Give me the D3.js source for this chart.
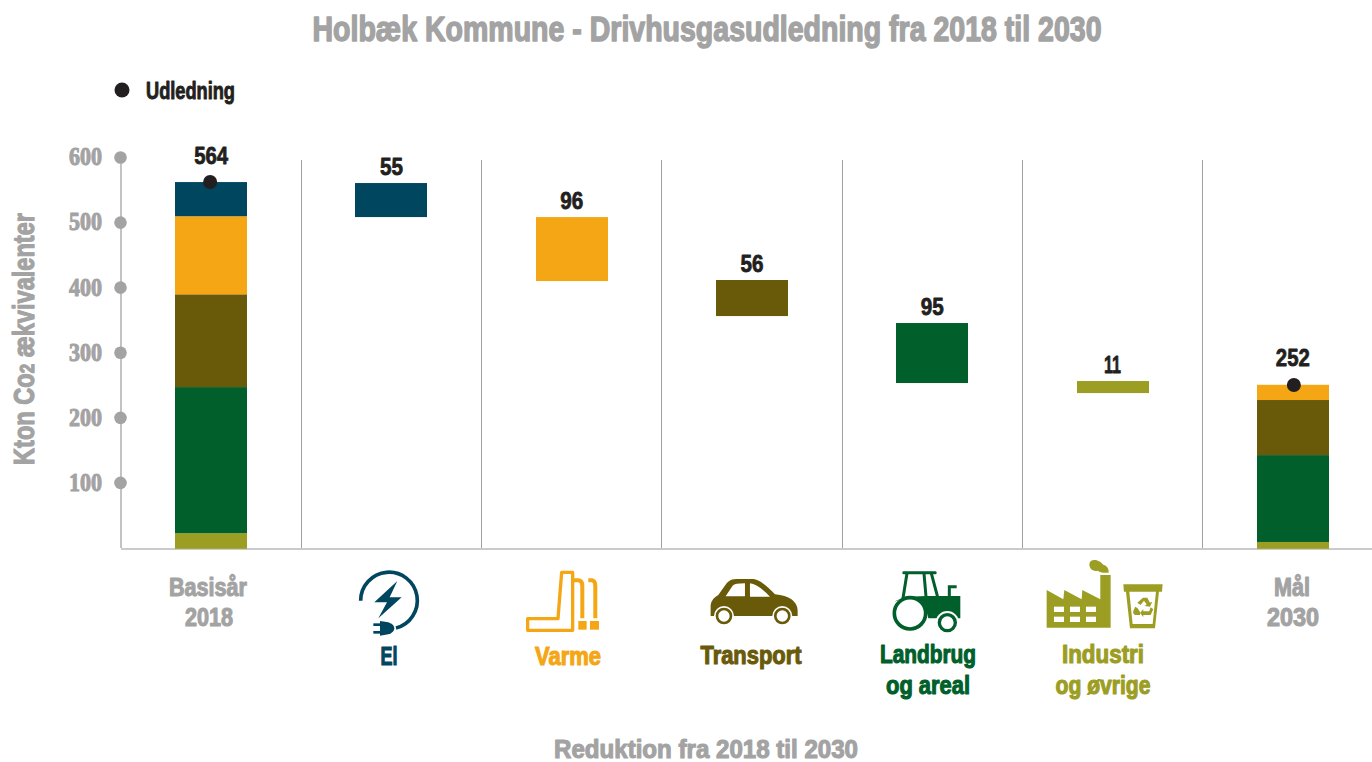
<!DOCTYPE html>
<html><head><meta charset="utf-8">
<script src="https://cdn.jsdelivr.net/npm/d3@7"></script>
<style>
html,body{margin:0;padding:0;background:#fff;overflow:hidden}
text{font-family:"Liberation Sans Narrow","Liberation Sans",sans-serif;font-weight:700;stroke-linejoin:round}
</style></head><body><svg id="c" width="1372" height="762"></svg>
<script>
const categories=["Basisår 2018","El","Varme","Transport","Landbrug og areal","Industri og øvrige","Mål 2030"];
const sectors=["Industri","Landbrug","Transport","Varme","El"];
const baseStack=[24,224.5,142.5,120,52.5];
const goalStack=[10.5,133.5,84.6,23.4,0];
const reductionTop=[560,507.7,411,344.9,255.8];
const reductionBottom=[507.7,409.4,355.6,252.7,237.3];
const reductionLabels=[55,96,56,95,11];
const totals=[564,252];
const yTicks=[100,200,300,400,500,600];
const sectorColors=["#9c9e24","#005f2b","#695a0a","#f5a614","#00465f"];
const GREY="#a3a3a3",DARK="#231f20";
const stackFloor=-2;

const svg=d3.select("#c");
const x=d3.scaleBand().domain(categories).range([121,1383]);
const y=d3.scaleLinear().domain([0,600]).range([547.5,157]);
const cx=c=>x(c)+x.bandwidth()/2;
const BAR=72;

function label(t,px,py,size,fill,w,anchor="middle",stroke=1.1){
  const n=svg.append("text").attr("x",px).attr("y",py).attr("font-size",size).attr("fill",fill)
    .attr("text-anchor",anchor).attr("stroke",fill).attr("stroke-width",stroke).text(t);
  if(w) n.attr("textLength",w).attr("lengthAdjust","spacingAndGlyphs");
  return n;
}
// titles
label("Holbæk Kommune - Drivhusgasudledning fra 2018 til 2030",707,41,35.5,GREY,789,"middle",1.5);
label("Reduktion fra 2018 til 2030",706,758,25,GREY,304,"middle",1.1);
svg.append("circle").attr("cx",122).attr("cy",90).attr("r",7.5).attr("fill",DARK);
label("Udledning",146,99,23,DARK,89,"start",.9);
const yt=label("Kton Co",0,0,29,GREY,252,"middle",1.2).attr("transform","translate(33.5,339) rotate(-90)");
yt.append("tspan").attr("font-size",21).text("2");
yt.append("tspan").text(" ækvivalenter");

// separators & axes
const sepG=svg.append("g");
categories.slice(1).forEach(c=>{
  sepG.append("line").attr("x1",Math.floor(x(c))+.5).attr("x2",Math.floor(x(c))+.5)
   .attr("y1",160).attr("y2",548).attr("stroke","#a0a0a0").attr("stroke-width",1);
});
const axG=svg.append("g").attr("transform","translate(120.5,0)")
  .call(d3.axisLeft(y).tickValues(yTicks).tickSize(0).tickPadding(18.5).tickFormat(d3.format("d")));
axG.select(".domain").attr("stroke",GREY).attr("stroke-width",1.3);
axG.selectAll("text").attr("font-size",24.5).attr("fill",GREY).attr("stroke",GREY).attr("stroke-width",1)
  .attr("textLength",33).attr("lengthAdjust","spacingAndGlyphs")
  .style("font-family",'"Liberation Sans Narrow"');
axG.selectAll(".tick").append("circle").attr("r",6.3).attr("fill",GREY);
svg.append("line").attr("x1",121).attr("x2",1372).attr("y1",549).attr("y2",549).attr("stroke","#b8b8b8").attr("stroke-width",1.5);

// stacks
function stack(cat,vals){
  let acc=stackFloor;
  vals.forEach((v,i)=>{
    if(!v) return;
    svg.append("rect").attr("x",Math.round(cx(cat)-BAR/2)).attr("width",BAR)
      .attr("y",y(acc+v)).attr("height",y(acc)-y(acc+v)).attr("fill",sectorColors[i]);
    acc+=v;
  });
}
stack(categories[0],baseStack);
stack(categories[6],goalStack);
const revColors=sectorColors.slice().reverse();
categories.slice(1,6).forEach((c,i)=>{
  svg.append("rect").attr("x",Math.round(cx(c)-BAR/2)).attr("width",BAR)
    .attr("y",y(reductionTop[i])).attr("height",y(reductionBottom[i])-y(reductionTop[i])).attr("fill",revColors[i]);
  const lw=String(reductionLabels[i])==="11"?17:23;
  label(reductionLabels[i],cx(c),y(reductionTop[i])-8.5,24.5,DARK,lw,"middle",.8);
});
[[0,totals[0]],[6,totals[1]]].forEach(([k,v])=>{
  const c=categories[k];
  svg.append("circle").attr("cx",cx(c)+(k?1:-1)).attr("cy",k?385:182).attr("r",7).attr("fill",DARK);
  label(v,cx(c),k?366:164,24.5,DARK,34,"middle",.8);
});

// category labels
const S=25;
label("Basisår",208,595.5,S,GREY,78);label("2018",209,625.5,S,GREY,48);
label("Mål",1292,595.5,S,GREY,36);label("2030",1293,625.5,S,GREY,52);
label("El",389,665,S,revColors[0],17);
label("Varme",568,664.5,S,revColors[1],66);
label("Transport",751,663.5,S,revColors[2],101);
label("Landbrug",928,663,S,revColors[3],96);label("og areal",928,694,S,revColors[3],84);
label("Industri",1103,663,S,revColors[4],82);label("og øvrige",1103,694,S,revColors[4],95);

// icons (3x zoom-space coords)
const g1=svg.append("g").attr("transform","translate(340,555) scale(.3333)");
const E=revColors[0],V=revColors[1],T=revColors[2],L=revColors[3],I=revColors[4];
g1.append("path").attr("d","M62,137 A85,85 0 1 1 168,219").attr("fill","none").attr("stroke",E).attr("stroke-width",11);
g1.append("path").attr("d","M172,78 L103,142 L141,142 L115,190 L185,127 L149,127 Z").attr("fill",E);
g1.append("path").attr("d","M120,198 L145,202 Q163,208 163,220 Q163,232 145,238 L120,242 Z").attr("fill",E);
g1.append("rect").attr("x",100).attr("y",205).attr("width",22).attr("height",8).attr("fill",E);
g1.append("rect").attr("x",100).attr("y",228).attr("width",22).attr("height",8).attr("fill",E);
g1.append("path").attr("d","M654,191 L563,191 L563,226 L698,226 L698,52 L665,52 Z").attr("fill","none").attr("stroke",V).attr("stroke-width",10).attr("stroke-linejoin","round");
g1.append("path").attr("d","M700,76 L716,76 Q727,78 727,92 L727,190 M745,76 L757,76 Q766,78 766,92 L766,190").attr("fill","none").attr("stroke",V).attr("stroke-width",12);
g1.append("rect").attr("x",715).attr("y",198).attr("width",25).attr("height",26).attr("fill",V);
g1.append("rect").attr("x",750).attr("y",198).attr("width",27).attr("height",26).attr("fill",V);
g1.append("path").attr("d","M1112,183 L1112,150 Q1115,130 1135,120 L1160,85 Q1170,72 1190,72 L1240,72 Q1265,75 1305,118 Q1370,125 1373,165 L1373,183 Z").attr("fill",T);
g1.append("path").attr("d","M1157,124 L1178,92 Q1185,85 1215,85 L1215,124 Z M1230,85 Q1255,88 1290,125 L1230,125 Z").attr("fill","#fff");
[1152,1327].forEach(c=>{
  g1.append("circle").attr("cx",c).attr("cy",183).attr("r",30).attr("fill","#fff");
  g1.append("circle").attr("cx",c).attr("cy",183).attr("r",21).attr("fill","#fff").attr("stroke",T).attr("stroke-width",8);
});
const g2=svg.append("g").attr("transform","translate(860,550) scale(.3333)");
g2.append("rect").attr("x",127).attr("y",64).attr("width",103).attr("height",9).attr("rx",4).attr("fill",L);
g2.append("path").attr("d","M141,70 L129,145 M192,70 L198,140 M214,70 L234,145").attr("stroke",L).attr("stroke-width",9).attr("fill","none");
g2.append("path").attr("d","M103,155 Q125,140 198,138 L301,138 L301,205 L205,205 L195,165 Q170,145 140,145 Q120,148 103,155 Z").attr("fill",L);
g2.append("path").attr("d","M268,140 L268,110 L290,110").attr("stroke",L).attr("stroke-width",9).attr("fill","none");
g2.append("circle").attr("cx",150).attr("cy",190).attr("r",47).attr("fill","#fff").attr("stroke",L).attr("stroke-width",11);
g2.append("circle").attr("cx",262).attr("cy",218).attr("r",35).attr("fill","#fff");
g2.append("circle").attr("cx",262).attr("cy",218).attr("r",24).attr("fill","#fff").attr("stroke",L).attr("stroke-width",10);
g2.append("path").attr("d","M560,233 L560,120 L610,148 L613,120 L665,148 L667,120 L721,148 L721,75 L752,75 L752,233 Z").attr("fill",I);
[170,200].forEach(yy=>[582,630,678].forEach(xx=>g2.append("rect").attr("x",xx).attr("y",yy).attr("width",30).attr("height",16).attr("fill","#fff")));
g2.append("path").attr("d","M688,45 Q688,28 708,30 Q722,34 730,44 Q747,48 746,68 Q722,70 714,62 Q692,66 688,45 Z").attr("fill",I);
g2.append("path").attr("d","M790,103 L908,103 L906,125 L897,125 L885,235 L810,235 L798,125 L792,125 Z").attr("fill",I);
g2.append("path").attr("d","M808,125 L888,125 L878,222 L818,222 Z").attr("fill","#fff");
g2.append("path").attr("d","M849,143 L862,143 L870,158 L877,155 L870,170 L855,168 L860,163 L852,152 L842,165 L832,158 Z M820,183 L826,170 L833,175 L840,186 L840,195 L826,195 Q818,192 820,183 Z M880,178 L872,195 L850,195 L850,201 L840,189 L850,177 L850,184 L868,184 L872,172 Z").attr("fill",I);
</script></body></html>
